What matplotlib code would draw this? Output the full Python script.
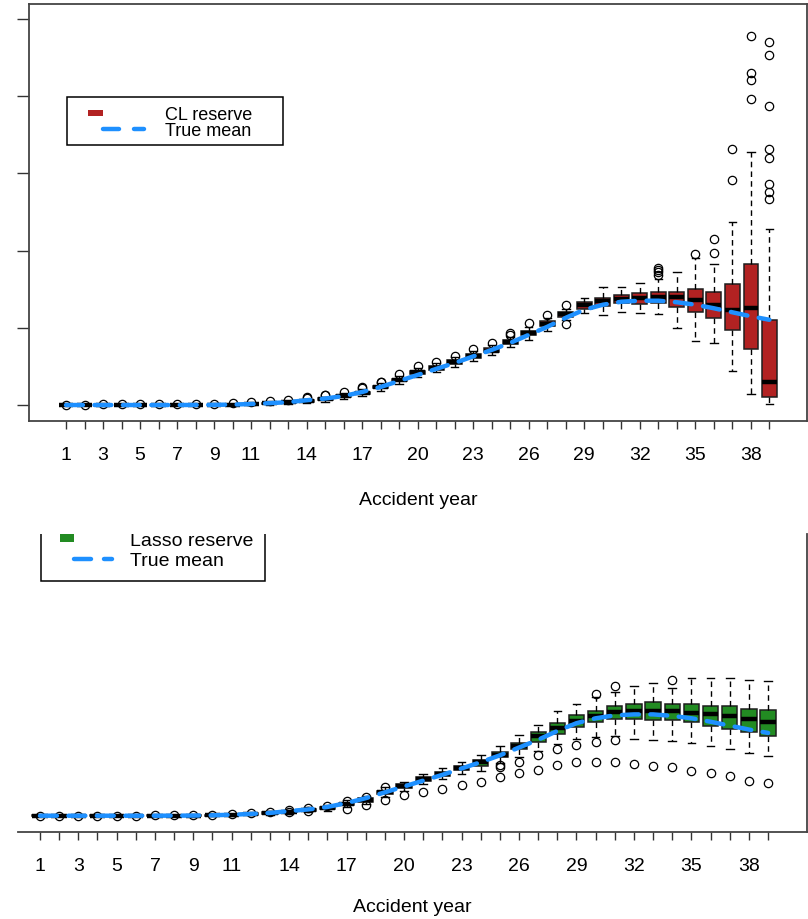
"""Boxplots of simulated reserves per accident year: CL (top) and Lasso (bottom)."""
import matplotlib
matplotlib.use('Agg')
import matplotlib.pyplot as plt
from matplotlib.patches import Rectangle
from matplotlib.lines import Line2D

plt.rcParams['font.family'] = ['Liberation Sans', 'DejaVu Sans']

YEARS = list(range(1, 40))
SHOWN_LABELS = [1, 3, 5, 7, 9, 11, 14, 17, 20, 23, 26, 29, 32, 35, 38]

TRUE_MEAN = [0.000, 0.000, 0.000, 0.000, 0.000, 0.000, 0.000, 0.001, 0.002, 0.006,
             0.013, 0.024, 0.037, 0.062, 0.084, 0.117, 0.169, 0.234, 0.312, 0.390,
             0.468, 0.545, 0.630, 0.714, 0.805, 0.909, 1.013, 1.130, 1.234, 1.299,
             1.338, 1.351, 1.351, 1.331, 1.299, 1.253, 1.201, 1.149, 1.104]

# ---- CL reserve ----
CL_MED = [0.000, 0.000, 0.000, 0.000, 0.000, 0.000, 0.001, 0.001, 0.002, 0.005,
          0.012, 0.022, 0.034, 0.052, 0.076, 0.112, 0.158, 0.232, 0.324, 0.422,
          0.478, 0.555, 0.632, 0.706, 0.814, 0.935, 1.052, 1.178, 1.290, 1.351,
          1.377, 1.390, 1.398, 1.398, 1.355, 1.290, 1.225, 1.256, 0.295]
CL_Q1 = [0.000, 0.000, 0.000, 0.000, 0.000, 0.000, 0.000, 0.000, 0.000, 0.002,
         0.007, 0.014, 0.024, 0.042, 0.062, 0.098, 0.143, 0.215, 0.305, 0.400,
         0.458, 0.533, 0.610, 0.683, 0.792, 0.909, 1.022, 1.139, 1.247, 1.282,
         1.325, 1.312, 1.325, 1.269, 1.204, 1.130, 0.978, 0.727, 0.108]
CL_Q3 = [0.002, 0.002, 0.002, 0.002, 0.002, 0.003, 0.004, 0.004, 0.005, 0.009,
         0.017, 0.030, 0.044, 0.062, 0.088, 0.126, 0.175, 0.250, 0.342, 0.442,
         0.500, 0.578, 0.657, 0.733, 0.848, 0.965, 1.082, 1.204, 1.334, 1.390,
         1.429, 1.451, 1.464, 1.464, 1.497, 1.464, 1.571, 1.822, 1.104]
CL_WLO = [0.000, 0.000, 0.000, 0.000, 0.000, 0.000, 0.000, 0.000, 0.000, 0.000,
          0.002, 0.005, 0.010, 0.025, 0.040, 0.075, 0.115, 0.185, 0.270, 0.365,
          0.425, 0.495, 0.575, 0.650, 0.757, 0.848, 0.965, 1.095, 1.191, 1.160,
          1.204, 1.195, 1.182, 0.996, 0.835, 0.805, 0.445, 0.143, 0.013]
CL_WHI = [0.004, 0.004, 0.004, 0.005, 0.005, 0.006, 0.008, 0.008, 0.010, 0.016,
          0.026, 0.040, 0.056, 0.080, 0.110, 0.150, 0.205, 0.280, 0.378, 0.478,
          0.540, 0.620, 0.700, 0.778, 0.883, 1.009, 1.126, 1.247, 1.390, 1.523,
          1.523, 1.584, 1.636, 1.723, 1.905, 1.822, 2.364, 3.281, 2.286]
CL_FLIERS = [[0.006], [0.006], [0.007], [0.007], [0.008], [0.009], [0.012], [0.013],
             [0.016], [0.024], [0.036], [0.050], [0.070], [0.095, 0.100], [0.128, 0.135],
             [0.168], [0.228, 0.215], [0.300, 0.292], [0.398], [0.500], [0.560], [0.640],
             [0.722], [0.798], [0.909, 0.931], [1.061], [1.160], [1.290, 1.052], [], [],
             [], [], [1.69, 1.72, 1.75, 1.78], [], [1.961], [1.974, 2.147], [2.913, 3.316],
             [3.965, 4.204, 4.299, 4.775],
             [2.666, 2.762, 2.861, 3.195, 3.316, 3.874, 4.537, 4.701]]

# ---- Lasso reserve ----
LA_MED = [0.000, 0.000, 0.000, 0.000, 0.000, 0.000, 0.000, 0.001, 0.002, 0.004,
          0.013, 0.023, 0.036, 0.053, 0.080, 0.099, 0.156, 0.209, 0.311, 0.400,
          0.489, 0.556, 0.636, 0.712, 0.813, 0.929, 1.059, 1.165, 1.267, 1.325,
          1.387, 1.392, 1.400, 1.400, 1.369, 1.356, 1.325, 1.289, 1.253]
LA_Q1 = [0.000, 0.000, 0.000, 0.000, 0.000, 0.000, 0.000, 0.000, 0.000, 0.001,
         0.008, 0.016, 0.027, 0.043, 0.066, 0.085, 0.138, 0.188, 0.288, 0.376,
         0.462, 0.530, 0.606, 0.667, 0.779, 0.889, 0.987, 1.089, 1.179, 1.245,
         1.289, 1.289, 1.276, 1.276, 1.245, 1.200, 1.156, 1.112, 1.067]
LA_Q3 = [0.003, 0.003, 0.003, 0.003, 0.003, 0.003, 0.004, 0.005, 0.006, 0.008,
         0.018, 0.030, 0.045, 0.063, 0.094, 0.114, 0.175, 0.232, 0.336, 0.428,
         0.518, 0.585, 0.668, 0.747, 0.853, 0.969, 1.112, 1.232, 1.343, 1.400,
         1.459, 1.489, 1.512, 1.489, 1.489, 1.467, 1.459, 1.423, 1.409]
LA_WLO = [0.000, 0.000, 0.000, 0.000, 0.000, 0.000, 0.000, 0.000, 0.000, 0.000,
          0.002, 0.006, 0.012, 0.025, 0.045, 0.062, 0.110, 0.160, 0.250, 0.330,
          0.420, 0.490, 0.560, 0.600, 0.703, 0.779, 0.867, 0.956, 1.023, 1.045,
          1.059, 1.023, 1.013, 0.992, 0.965, 0.933, 0.889, 0.836, 0.792]
LA_WHI = [0.005, 0.005, 0.005, 0.005, 0.005, 0.006, 0.008, 0.010, 0.012, 0.016,
          0.026, 0.040, 0.058, 0.080, 0.115, 0.138, 0.205, 0.268, 0.380, 0.453,
          0.560, 0.630, 0.720, 0.809, 0.933, 1.076, 1.209, 1.400, 1.489, 1.579,
          1.653, 1.725, 1.769, 1.699, 1.832, 1.832, 1.832, 1.813, 1.800]
LA_FLIERS = [[0.002], [0.002], [0.002], [0.002], [0.002], [0.002], [0.003], [0.004],
             [0.005], [0.008], [0.020], [0.030], [0.045], [0.070, 0.046], [0.100, 0.064],
             [0.125], [0.200, 0.089], [0.245, 0.142], [0.378, 0.213], [0.276], [0.316],
             [0.356], [0.409], [0.445], [0.676, 0.645, 0.512], [0.720, 0.569],
             [0.809, 0.613], [0.889, 0.676], [0.943, 0.720], [1.623, 0.979, 0.720],
             [1.733, 1.013, 0.720], [0.689], [0.659], [1.813, 0.645], [0.600], [0.569],
             [0.525], [0.467], [0.436]]

W, H = 808, 920


def fx(x, y):
    """pixel (from top-left) -> figure fraction"""
    return x / W, 1 - y / H


def make_stats(med, q1, q3, wlo, whi, fliers):
    return [dict(med=m, q1=a, q3=b, whislo=lo, whishi=hi, fliers=f)
            for m, a, b, lo, hi, f in zip(med, q1, q3, wlo, whi, fliers)]


def draw_panel(ax, stats, fill, labelpad):
    ax.bxp(stats, positions=YEARS, widths=0.8, capwidths=0.4,
           patch_artist=True, manage_ticks=False,
           boxprops=dict(facecolor=fill, edgecolor='#1e1e1e', linewidth=1.1),
           medianprops=dict(color='black', linewidth=3.2, solid_capstyle='butt'),
           whiskerprops=dict(color='black', linewidth=1.0, linestyle=(0, (4, 3))),
           capprops=dict(color='black', linewidth=1.0),
           flierprops=dict(marker='o', markerfacecolor='none', markeredgecolor='black',
                           markersize=6, markeredgewidth=0.9))
    ax.plot(YEARS, TRUE_MEAN, color='#1E90FF', lw=3.2, dashes=(3.8, 2.6),
            dash_capstyle='round', zorder=5)
    ax.set_xticks(YEARS)
    ax.set_xticklabels([str(y) if y in SHOWN_LABELS else '' for y in YEARS],
                       fontsize=14)
    ax.tick_params(axis='x', length=6, width=1, color='#333333', pad=12)
    ax.set_xlabel('Accident year', fontsize=14, labelpad=labelpad)
    for s in ax.spines.values():
        s.set_color('#444444')
        s.set_linewidth(1.3)


def legend(ax, fig, box, patch, fill, dash1, dash2, dash_y, label, tx, ty1, ty2, fs):
    x0, y0, x1, y1 = box
    bl = fx(x0, y1)
    ax.add_patch(Rectangle(bl, (x1 - x0) / W, (y1 - y0) / H, transform=fig.transFigure,
                           facecolor='white', edgecolor='black', lw=1.1, zorder=6))
    px0, py0, px1, py1 = patch
    ax.add_patch(Rectangle(fx(px0, py1), (px1 - px0) / W, (py1 - py0) / H,
                           transform=fig.transFigure, facecolor=fill,
                           edgecolor='none', zorder=7))
    for a, b in (dash1, dash2):
        p, q = fx(a, dash_y), fx(b, dash_y)
        ax.add_line(Line2D([p[0], q[0]], [p[1], q[1]], transform=fig.transFigure,
                           color='#1E90FF', lw=3.2, solid_capstyle='round', zorder=7))
    ax.text(*fx(tx, ty1), label, transform=fig.transFigure, fontsize=fs,
            va='center', ha='left', clip_on=True, zorder=7)
    ax.text(*fx(tx, ty2), 'True mean', transform=fig.transFigure, fontsize=fs,
            va='center', ha='left', clip_on=True, zorder=7)


fig = plt.figure(figsize=(W / 100, H / 100), dpi=100)

# ---- top: CL ----
ax1 = fig.add_axes([29 / W, (H - 422) / H, 778 / W, 417 / H])
draw_panel(ax1, make_stats(CL_MED, CL_Q1, CL_Q3, CL_WLO, CL_WHI, CL_FLIERS),
           '#B22222', 20)
ax1.set_xlim(-0.999, 41.03)
ax1.set_ylim(-0.207, 5.194)
ax1.set_yticks([0, 1, 2, 3, 4, 5])
ax1.set_yticklabels([''] * 6)
ax1.tick_params(axis='y', length=8.5, width=1, color='#333333')
legend(ax1, fig, (67, 98, 283, 146), (88, 111, 103, 116.7), '#B22222',
       (103, 119), (134, 144), 130, 'CL reserve', 165, 115, 132, 13)

# ---- bottom: Lasso ----
ax2 = fig.add_axes([18 / W, (H - 833) / H, 789 / W, (833 - 535) / H])
draw_panel(ax2, make_stats(LA_MED, LA_Q1, LA_Q3, LA_WLO, LA_WHI, LA_FLIERS),
           '#228B22', 17)
ax2.set_xlim(-0.148, 41.03)
ax2.set_ylim(-0.217, 3.756)
ax2.set_yticks([])
ax2.spines['left'].set_visible(False)
ax2.spines['top'].set_visible(False)
legend(ax2, fig, (41, 515, 265, 582), (60, 533, 74, 543.3), '#228B22',
       (74, 91), (104, 112), 560, 'Lasso reserve', 130, 541, 561.5, 14)

fig.savefig('out.png', dpi=100)
